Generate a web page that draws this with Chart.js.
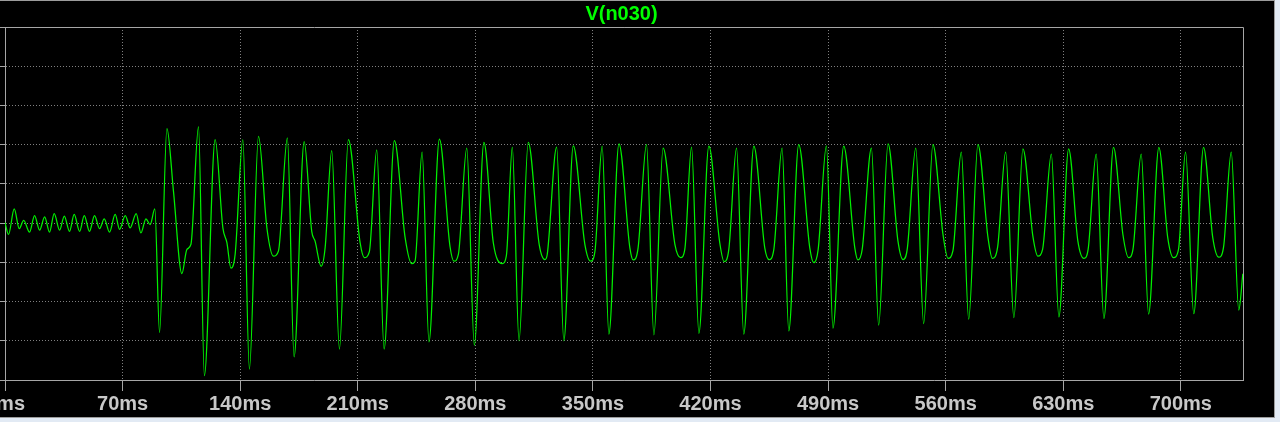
<!DOCTYPE html>
<html>
<head>
<meta charset="utf-8">
<title>V(n030)</title>
<script src="https://cdn.jsdelivr.net/npm/chart.js@4.4.1/dist/chart.umd.min.js"></script>
<style>
  html, body { margin: 0; padding: 0; width: 1280px; height: 422px; overflow: hidden; background: #e2eaf4; }
  #scope {
    position: absolute; left: 0; top: 0;
    width: 1274px; height: 416px;
    background: #000;
    border-top: 1px solid #9c9c9c;
    border-right: 1px solid #9c9c9c;
    border-bottom: 1px solid #9c9c9c;
    overflow: hidden;
  }
  #wave { position: absolute; left: 0; top: 0; }
</style>
</head>
<body>
<div id="scope"><canvas id="wave" width="1248" height="416"></canvas></div>
<script>
// Trace V(n030), time in ms, level in mV
// small ringing before the start-up
const idleTimeMs = [0, 2.1, 5.5, 8.5, 11.1, 14.6, 17.6, 20.6, 23.6, 26.5, 29.3, 32.5, 35.3, 38.4, 41.2,
    44.4, 47.2, 50.3, 53.3, 56.3, 59.1, 62.2, 65.6, 68.2, 71.6, 74.5, 78.1, 80.9, 83.9, 86.4, 89.2];
const idleMv = [2, -29, 36, -14, 7, -23, 19, -18, 16, -23, 24, -18, 18, -21, 22,
    -21, 19, -21, 19, -14, 11, -23, 22, -16, 19, -12, 24, -25, 11, -4, 36];

// full swing after ~90ms
const runTimeMs = [
    92.0, 96.4, 100.3, 105.3, 108.3, 110.7, 115.2, 118.7,
    125.1, 129.7, 132.1, 134.5, 137.0, 141.6, 145.5,
    150.9, 155.9, 159.8, 162.8, 168.1, 172.1,
    178.1, 182.6, 184.6, 188.2, 190.6, 194.5, 199.1,
    204.4, 211.4, 213.9, 216.9, 221.3, 225.7,
    231.8, 238.2, 242.1, 244.1, 248.3, 252.4,
    258.6, 264.9, 267.3, 269.9, 274.9, 279.4,
    285.1, 290.7, 296.0, 298.5, 302.0, 306.0,
    311.5, 318.0, 321.4, 322.8, 328.4, 332.7,
    338.3, 345.2, 348.6, 351.2, 355.5, 359.5,
    365.5, 372.0, 374.0, 376.9, 381.9, 386.3,
    391.8, 398.8, 402.2, 404.7, 408.7, 413.1,
    419.0, 425.5, 428.1, 430.9, 435.5, 439.8,
    445.8, 452.3, 454.9, 457.7, 462.6, 466.6,
    472.5, 479.1, 481.5, 484.1, 489.0, 492.9,
    499.3, 505.9, 507.8, 510.3, 515.8, 520.1,
    525.7, 531.6, 534.6, 537.1, 542.2, 546.9,
    552.4, 558.4, 561.4, 564.3, 569.3, 573.7,
    579.2, 585.2, 587.8, 590.9, 595.7, 600.6,
    606.0, 611.9, 614.9, 617.7, 622.9, 627.4,
    633.2, 638.7, 642.3, 644.8, 649.6, 654.2,
    659.9, 665.5, 668.9, 671.5, 676.4, 680.8,
    686.9, 692.2, 695.6, 698.6, 702.8, 707.7,
    713.5, 719.0, 722.6, 725.4, 730.0, 734.5, 736.9
];
const runMv = [
    -279, 241, 81, -129, -67, -54, 246, -389,
    213, -12, -50, -115, -80, 213, -372,
    221, -12, -84, -71, 217, -341,
    208, -21, -46, -110, -62, 185, -321,
    213, -50, -88, -73, 187, -321,
    210, -37, -103, -97, 181, -303,
    214, -59, -97, -80, 191, -311,
    206, -50, -103, -82, 194, -300,
    206, -54, -93, -80, 194, -300,
    197, -54, -97, -72, 196, -283,
    202, -63, -94, -63, 200, -285,
    191, -54, -88, -67, 194, -281,
    196, -50, -98, -67, 191, -283,
    196, -63, -93, -67, 191, -275,
    200, -63, -101, -67, 197, -268,
    196, -63, -94, -67, 191, -260,
    202, -46, -93, -67, 191, -256,
    200, -29, -90, -71, 181, -245,
    200, -37, -90, -62, 181, -241,
    189, -33, -84, -67, 176, -239,
    189, -46, -90, -67, 176, -243,
    193, -29, -88, -67, 176, -232,
    193, -37, -88, -67, 181, -231,
    193, -37, -87, -62, 181, -222, -129
];

// axis grid
const gridTimesMs = [0, 70, 140, 210, 280, 350, 420, 490, 560, 630, 700];
const gridMv = [-400, -300, -200, -100, 0, 100, 200, 300, 400, 500];
const timeMinMs = 0, timeMaxMs = 737;

const timeMs = idleTimeMs.concat(runTimeMs);
const traceMv = idleMv.concat(runMv);
const points = timeMs.map((t, i) => ({ x: t, y: traceMv[i] }));

const TRACE = '#00f000';
const GRID = '#808080';
const FRAME = '#a6a6a6';
const LABEL = '#c8c8c8';
const FONT = "'Liberation Sans', Arial, sans-serif";

// top/right edges of the plot box
const framePlugin = {
    id: 'frame',
    afterDraw(chart) {
        const { ctx, chartArea: a } = chart;
        ctx.save();
        ctx.strokeStyle = FRAME;
        ctx.lineWidth = 1;
        ctx.beginPath();
        ctx.moveTo(Math.round(a.left), Math.round(a.top) + 0.5);
        ctx.lineTo(Math.round(a.right) + 0.5, Math.round(a.top) + 0.5);
        ctx.lineTo(Math.round(a.right) + 0.5, Math.round(a.bottom));
        ctx.stroke();
        ctx.restore();
    }
};

new Chart(document.getElementById('wave'), {
    type: 'line',
    data: {
        datasets: [{
            data: points,
            borderColor: TRACE,
            borderWidth: 1.25,
            pointRadius: 0,
            fill: false,
            cubicInterpolationMode: 'monotone'
        }]
    },
    options: {
        responsive: false,
        animation: false,
        devicePixelRatio: 1,
        layout: { padding: { left: 0, right: 5, top: 0, bottom: 0 } },
        plugins: {
            legend: { display: false },
            tooltip: { enabled: false },
            title: {
                display: true,
                text: 'V(n030)',
                color: '#00ff00',
                font: { family: FONT, size: 20, weight: 'bold' },
                padding: { top: 1, bottom: 1 }
            }
        },
        scales: {
            x: {
                type: 'linear',
                min: timeMinMs,
                max: timeMaxMs,
                bounds: 'data',
                afterBuildTicks: s => { s.ticks = gridTimesMs.map(v => ({ value: v })); },
                afterFit: s => { s.paddingLeft = 0; s.paddingRight = 0; },
                ticks: {
                    color: LABEL,
                    font: { family: FONT, size: 20, weight: 'bold' },
                    padding: 1,
                    maxRotation: 0,
                    autoSkip: false,
                    callback: v => v + 'ms'
                },
                grid: { color: GRID, tickColor: FRAME, tickLength: 11, lineWidth: 1 },
                border: { color: FRAME, width: 1, dash: [1, 2] }
            },
            y: {
                type: 'linear',
                min: gridMv[0],
                max: gridMv[gridMv.length - 1],
                afterBuildTicks: s => { s.ticks = gridMv.map(v => ({ value: v })); },
                ticks: { display: false },
                grid: { color: GRID, tickColor: FRAME, tickLength: 5, lineWidth: 1 },
                border: { color: FRAME, width: 1, dash: [1, 2] }
            }
        }
    },
    plugins: [framePlugin]
});
</script>
</body>
</html>
